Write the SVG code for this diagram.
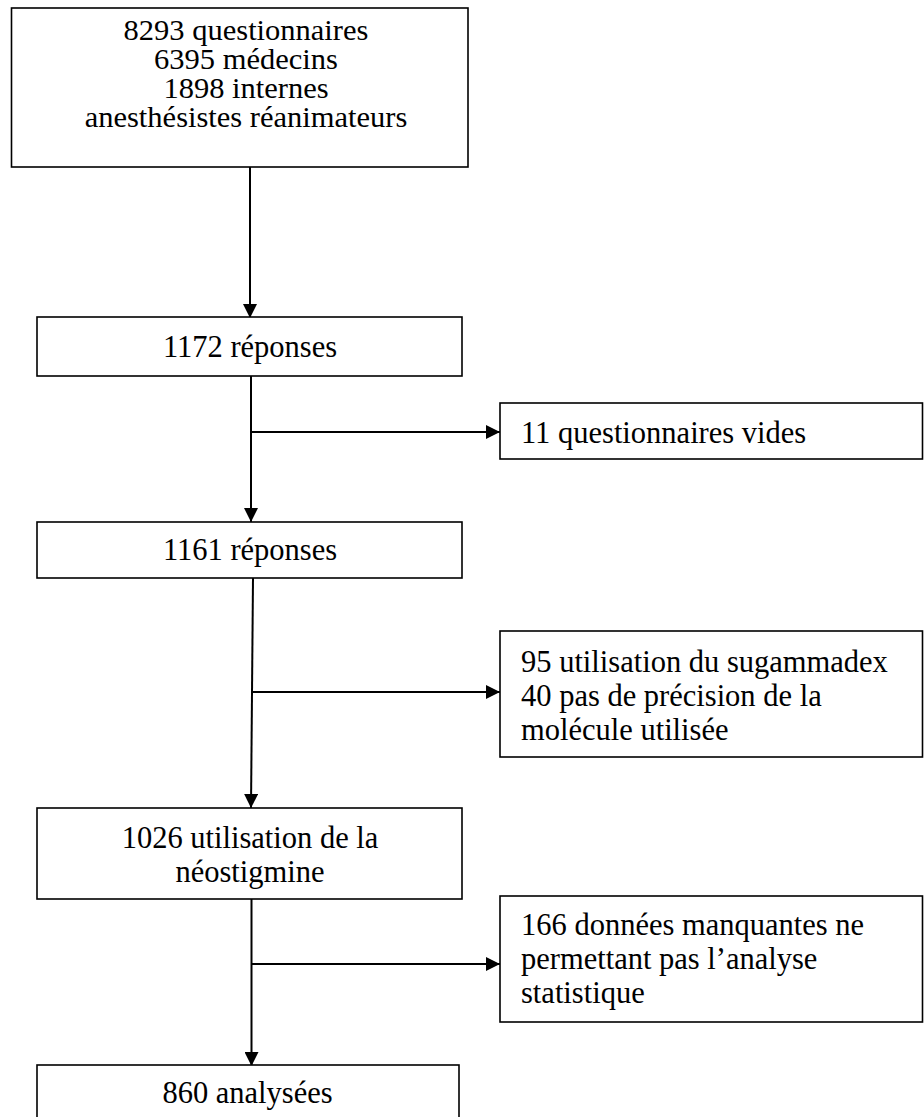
<svg xmlns="http://www.w3.org/2000/svg" width="924" height="1117" viewBox="0 0 924 1117">
<style>
.box{fill:#fff;stroke:#000;stroke-width:1.6}
.t{font-family:"Liberation Serif","Times New Roman",serif;font-size:30.5px;fill:#000}
.s{font-size:29.5px}
.c{text-anchor:middle}
.conn{fill:none;stroke:#000;stroke-width:2}
</style>
<defs>
<marker id="arr" markerUnits="userSpaceOnUse" markerWidth="14" markerHeight="14" viewBox="0 0 14 14" refX="14" refY="7" orient="auto">
<path d="M0,0 L14,7 L0,14 z" fill="#000"/>
</marker>
</defs>
<g id="connectors">
<line class="conn" x1="250" y1="167" x2="250" y2="318" marker-end="url(#arr)"/>
<line class="conn" x1="251" y1="376" x2="251" y2="522" marker-end="url(#arr)"/>
<line class="conn" x1="252" y1="432" x2="500" y2="432" marker-end="url(#arr)"/>
<line class="conn" x1="253" y1="578" x2="251" y2="808" marker-end="url(#arr)"/>
<line class="conn" x1="252" y1="692" x2="500" y2="692" marker-end="url(#arr)"/>
<line class="conn" x1="251.5" y1="898" x2="251.5" y2="1066" marker-end="url(#arr)"/>
<line class="conn" x1="251.5" y1="964" x2="500" y2="964" marker-end="url(#arr)"/>
</g>
<g id="n1">
<rect class="box" x="11.5" y="8" width="456.5" height="159"/>
<g transform="matrix(1.034 0 0 1 246 0)">
<text class="t s c" x="0" y="40.5">8293 questionnaires</text>
<text class="t s c" x="0" y="69.5">6395 médecins</text>
<text class="t s c" x="0" y="98.5">1898 internes</text>
<text class="t s c" x="0" y="127.5">anesthésistes réanimateurs</text>
</g>
</g>
<g id="n2">
<rect class="box" x="37" y="317" width="425" height="59"/>
<text class="t c" x="250" y="357">1172 réponses</text>
</g>
<g id="n3">
<rect class="box" x="500" y="403" width="422.5" height="56"/>
<text class="t" x="521" y="443">11 questionnaires vides</text>
</g>
<g id="n4">
<rect class="box" x="37" y="522" width="425" height="56"/>
<text class="t c" x="250" y="560">1161 réponses</text>
</g>
<g id="n5">
<rect class="box" x="500" y="631" width="422.5" height="126"/>
<text class="t" x="521" y="672">95 utilisation du sugammadex</text>
<text class="t" x="521" y="706">40 pas de précision de la</text>
<text class="t" x="521" y="740">molécule utilisée</text>
</g>
<g id="n6">
<rect class="box" x="37" y="808" width="425" height="91"/>
<text class="t c" x="250" y="848">1026 utilisation de la</text>
<text class="t c" x="250" y="882">néostigmine</text>
</g>
<g id="n7">
<rect class="box" x="500" y="896" width="422.5" height="126"/>
<text class="t" x="521" y="935">166 données manquantes ne</text>
<text class="t" x="521" y="969">permettant pas l’analyse</text>
<text class="t" x="521" y="1003">statistique</text>
</g>
<g id="n8">
<rect class="box" x="37" y="1065" width="422" height="70"/>
<text class="t c" x="247.5" y="1103">860 analysées</text>
</g>
</svg>
